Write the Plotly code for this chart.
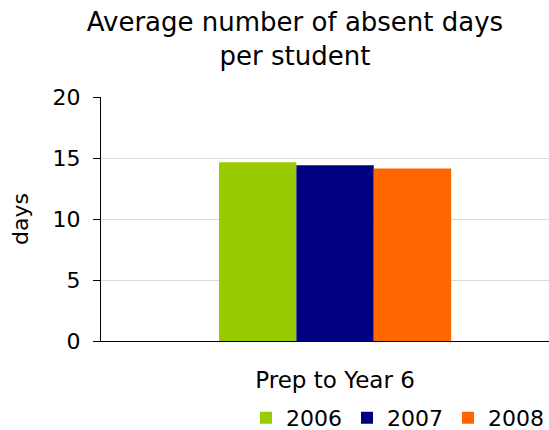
import plotly.graph_objects as go

categories = ["Prep to Year 6"]
years = ["2006", "2007", "2008"]
values_2006 = [14.66]
values_2007 = [14.41]
values_2008 = [14.13]
colors = ["#99CC00", "#000080", "#FF6600"]
y_ticks = [0, 5, 10, 15, 20]

series = [values_2006, values_2007, values_2008]

fig = go.Figure()
for name, vals, col in zip(years, series, colors):
    fig.add_trace(go.Bar(x=categories, y=vals, name=name, marker=dict(color=col, line=dict(width=0))))

font = "DejaVu Sans, Arial, sans-serif"
fig.update_layout(
    width=549, height=430,
    margin=dict(l=101, r=0, t=97, b=89),
    paper_bgcolor="white", plot_bgcolor="white",
    font=dict(family=font, color="black", size=22),
    title=dict(text="Average number of absent days<br>per student", x=0.433, xanchor="center",
               xref="paper", yref="container", y=0.927, yanchor="top",
               font=dict(size=26, family=font)),
    barmode="group", bargap=0.504, bargroupgap=0,
    showlegend=True,
    legend=dict(orientation="h", x=0.429, xanchor="left", yref="container", y=0.028, yanchor="middle",
                font=dict(size=22), traceorder="normal", itemwidth=30,
                entrywidth=56, entrywidthmode="pixels"),
    xaxis=dict(range=[-0.5, 0.457], showline=True, linecolor="black", linewidth=1,
               ticks="", tickfont=dict(size=23), showgrid=False, ticklabelstandoff=18),
    yaxis=dict(range=[0, 20], tickvals=y_ticks, showline=True, linecolor="black", linewidth=1,
               ticks="outside", ticklen=7, tickcolor="black", showgrid=True,
               gridcolor="#D9D9D9", gridwidth=1, zeroline=False,
               tickfont=dict(size=22), ticklabelstandoff=8,
               title=dict(text="days", font=dict(size=22), standoff=17)),
)
fig.write_html("out.html", config={"displayModeBar": False},
               post_script="document.body.style.margin='0px';")
